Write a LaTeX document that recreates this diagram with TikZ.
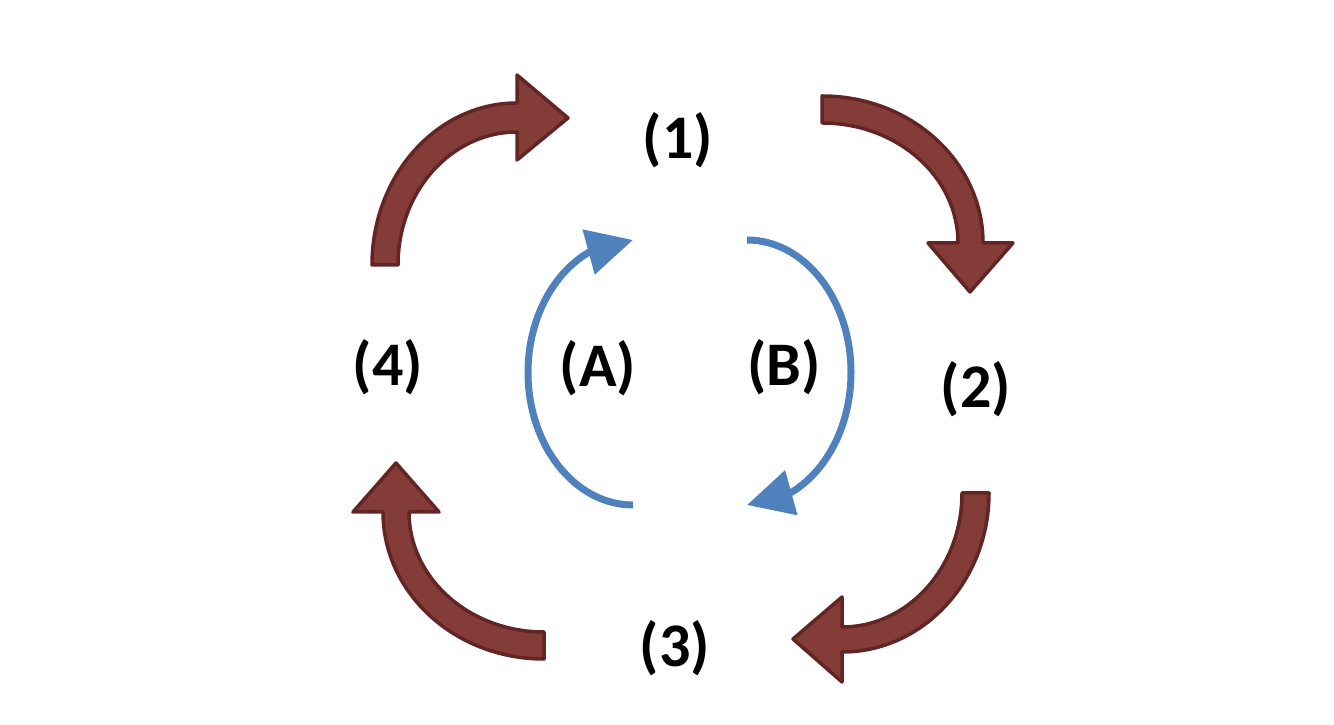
\documentclass[tikz,border=0pt]{standalone}
\usepackage{fontspec}
\setmainfont{Carlito}
\usetikzlibrary{arrows.meta,bending}
\definecolor{arrowred}{RGB}{132,60,57}
\definecolor{arrowedge}{RGB}{99,37,35}
\definecolor{arcblue}{RGB}{79,129,189}
\begin{document}
\begin{tikzpicture}[x=1pt,y=1pt,line join=round,
    redarrow/.style={fill=arrowred,draw=arrowedge,line width=3.5pt},
    bluearc/.style={draw=arcblue,line width=7pt,-{Triangle[length=46pt,width=45pt]}},
    lab/.style={inner sep=0pt,font=\fontsize{62}{70}\selectfont\bfseries}]
\useasboundingbox (0,0) rectangle (1334,725);
% labels
\node[lab] (n1) at (678,585) {(1)};
\node[lab] (n2) at (976,336) {(2)};
\node[lab] (n3) at (675,77) {(3)};
\node[lab] (n4) at (388,358) {(4)};
\node[lab] (nA) at (598,357) {(A)};
\node[lab] (nB) at (784,358) {(B)};
% outer cycle
\draw[redarrow] (398,460) -- (372,460) arc[start angle=180,end angle=90,x radius=145,y radius=162]
    -- (517,650) -- (568,607) -- (517,565) -- (517,593)
    arc[start angle=90,end angle=180,x radius=119,y radius=133] -- cycle;
\draw[redarrow] (822,602) -- (822,629) arc[start angle=90,end angle=0,x radius=161,y radius=147]
    -- (1013,482) -- (970,433) -- (928,482) -- (958,482)
    arc[start angle=0,end angle=90,x radius=136,y radius=120] -- cycle;
\draw[redarrow] (962,232) -- (989,232) arc[start angle=0,end angle=-90,x radius=147,y radius=159]
    -- (842,43) -- (793,86) -- (842,128) -- (842,98)
    arc[start angle=-90,end angle=0,x radius=120,y radius=134] -- cycle;
\draw[redarrow] (544,93) -- (544,66) arc[start angle=270,end angle=180,x radius=161,y radius=147]
    -- (353,213) -- (396,262) -- (439,213) -- (409,213)
    arc[start angle=180,end angle=270,x radius=135,y radius=120] -- cycle;
% inner arcs
\draw[bluearc] (633,220) arc[start angle=270,end angle=90,x radius=105,y radius=132.5];
\draw[bluearc] (747,485) arc[start angle=90,end angle=-90,x radius=104,y radius=132.5];
\end{tikzpicture}
\end{document}
